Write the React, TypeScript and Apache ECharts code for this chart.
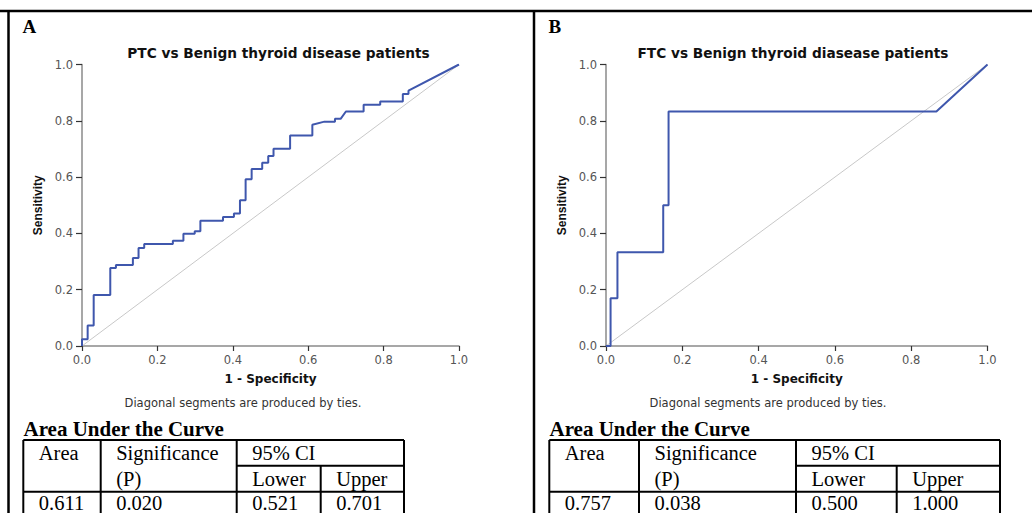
import React, { useEffect, useRef } from "react";
import * as echarts from "echarts";

// ---------- Data ----------
const panelLabels = ["A", "B"];
const chartTitles = [
  "PTC vs Benign thyroid disease patients",
  "FTC vs Benign thyroid diasease patients",
];

// Panel A: ROC corners (1 - specificity, sensitivity)
const ptcFpr = [
  0, 0, 0.015, 0.015, 0.031, 0.031, 0.075, 0.075, 0.09, 0.09, 0.135, 0.135,
  0.15, 0.15, 0.165, 0.165, 0.241, 0.241, 0.269, 0.269, 0.299, 0.299, 0.314,
  0.314, 0.374, 0.374, 0.403, 0.403, 0.419, 0.419, 0.434, 0.434, 0.45, 0.45,
  0.478, 0.478, 0.494, 0.494, 0.508, 0.508, 0.552, 0.552, 0.611, 0.611, 0.643,
  0.671, 0.671, 0.686, 0.7, 0.747, 0.747, 0.791, 0.791, 0.851, 0.851, 0.866,
  0.866, 1,
];
const ptcTpr = [
  0, 0.024, 0.024, 0.073, 0.073, 0.181, 0.181, 0.277, 0.277, 0.288, 0.288,
  0.313, 0.313, 0.348, 0.348, 0.362, 0.362, 0.374, 0.374, 0.399, 0.399, 0.408,
  0.408, 0.445, 0.445, 0.458, 0.458, 0.471, 0.471, 0.518, 0.518, 0.592, 0.592,
  0.629, 0.629, 0.651, 0.651, 0.675, 0.675, 0.701, 0.701, 0.748, 0.748, 0.786,
  0.797, 0.797, 0.807, 0.807, 0.833, 0.833, 0.857, 0.857, 0.869, 0.869, 0.895,
  0.895, 0.907, 1,
];

// Panel B
const ftcFpr = [0, 0.012, 0.012, 0.03, 0.03, 0.15, 0.15, 0.164, 0.164, 0.866, 1];
const ftcTpr = [0, 0, 0.17, 0.17, 0.333, 0.333, 0.5, 0.5, 0.833, 0.833, 1];

const refX = [0, 1];
const refY = [0, 1];

// Tables
const tableTitle = "Area Under the Curve";
const headerRow1 = ["Area", "Significance", "95% CI"];
const headerRow2 = ["", "(P)", "Lower", "Upper"];
const aucA = ["0.611", "0.020", "0.521", "0.701"];
const aucB = ["0.757", "0.038", "0.500", "1.000"];
const footnote = "Diagonal segments are produced by ties.";

const pairs = (xs: number[], ys: number[]) => xs.map((x, i) => [x, ys[i]]);

export default function App() {
  const ref = useRef<HTMLDivElement>(null);

  useEffect(() => {
    if (!ref.current) return;
    const chart = echarts.init(ref.current, null, { renderer: "svg" });

    const grids = [
      { left: 82, top: 64.5, width: 377, height: 281.5 },
      { left: 606, top: 64.5, width: 381.5, height: 281.5 },
    ];

    const axisFont = "DejaVu Sans";
    const mkX = (gi: number) => ({
      type: "value",
      gridIndex: gi,
      min: 0,
      max: 1,
      interval: 0.2,
      axisLine: { show: true, onZero: false, lineStyle: { color: "#8a8a8a", width: 1.5 } },
      axisTick: { show: true, length: 5, lineStyle: { color: "#333", width: 1.2 } },
      axisLabel: {
        formatter: (v: number) => v.toFixed(1),
        color: "#555",
        fontSize: 11.5,
        fontFamily: axisFont,
        margin: 8,
      },
      splitLine: { show: false },
      name: "1 - Specificity",
      nameLocation: "middle",
      nameGap: 27,
      nameTextStyle: { fontWeight: "bold", fontSize: 12, color: "#111", fontFamily: axisFont },
    });
    const mkY = (gi: number) => ({
      type: "value",
      gridIndex: gi,
      min: 0,
      max: 1,
      interval: 0.2,
      axisLine: { show: true, onZero: false, lineStyle: { color: "#8a8a8a", width: 1.5 } },
      axisTick: { show: true, length: 6, lineStyle: { color: "#333", width: 1.2 } },
      axisLabel: {
        formatter: (v: number) => v.toFixed(1),
        color: "#555",
        fontSize: 11.5,
        fontFamily: axisFont,
        margin: 9,
      },
      splitLine: { show: false },
      name: "Sensitivity",
      nameLocation: "middle",
      nameRotate: 90,
      nameGap: 38,
      nameTextStyle: {
        fontWeight: "bold",
        fontSize: 12,
        color: "#111",
        fontFamily: "Liberation Sans",
      },
    });

    const graphic: any[] = [];
    const line = (x1: number, y1: number, x2: number, y2: number, w = 2) =>
      graphic.push({
        type: "line",
        shape: { x1, y1, x2, y2 },
        style: { stroke: "#000", lineWidth: w },
      });
    const text = (
      x: number,
      y: number,
      t: string,
      font: string,
      fill = "#000",
      align = "left"
    ) =>
      graphic.push({
        type: "text",
        x,
        y,
        style: { text: t, font, fill, align, verticalAlign: "middle" },
      });

    // Outer frame
    line(0, 11, 1032, 11, 2.5);
    line(8.5, 11, 8.5, 513, 2.5);
    line(534, 11, 534, 513, 2.5);

    const panelX = [22.5, 548.5];
    const footX = [243, 768];
    const titleX = [278.5, 793];
    const tableCols = [
      [23.3, 100.7, 236.7, 320.7, 404],
      [549.3, 639, 796, 896.7, 1000],
    ];
    const tableVals = [aucA, aucB];

    for (let p = 0; p < 2; p++) {
      text(panelX[p], 26.5, panelLabels[p], "bold 19px 'Liberation Serif'");
      text(titleX[p], 53, chartTitles[p], "bold 13.7px 'DejaVu Sans'", "#111", "center");
      text(footX[p], 403, footnote, "11.5px 'DejaVu Sans'", "#333", "center");
      text(panelX[p] + 1, 429, tableTitle, "bold 21px 'Liberation Serif'");
      const c = tableCols[p];
      const top = 440, mid = 465.7, hb = 491.7, bot = 515;
      line(c[0], top, c[4], top);
      line(c[2], mid, c[4], mid);
      line(c[0], hb, c[4], hb);
      for (let i = 0; i < 5; i++) line(c[i], i === 3 ? mid : top, c[i], bot);
      const tf = "20.5px 'Liberation Serif'";
      const off = 15.5;
      text(c[0] + off, 453, headerRow1[0], tf);
      text(c[1] + off, 453, headerRow1[1], tf);
      text(c[2] + off, 453, headerRow1[2], tf);
      text(c[1] + off, 479, headerRow2[1], tf);
      text(c[2] + off, 479, headerRow2[2], tf);
      text(c[3] + off, 479, headerRow2[3], tf);
      for (let i = 0; i < 4; i++) text(c[i] + off, 502.5, tableVals[p][i], tf);
    }

    const option: any = {
      animation: false,
      backgroundColor: "#fff",
      grid: grids,
      xAxis: [mkX(0), mkX(1)],
      yAxis: [mkY(0), mkY(1)],
      series: [
        {
          type: "line",
          xAxisIndex: 0,
          yAxisIndex: 0,
          data: pairs(refX, refY),
          showSymbol: false,
          lineStyle: { color: "#c8c8c8", width: 1 },
          z: 1,
        },
        {
          type: "line",
          xAxisIndex: 0,
          yAxisIndex: 0,
          data: pairs(ptcFpr, ptcTpr),
          showSymbol: false,
          lineStyle: { color: "#3f57ad", width: 2 },
          z: 2,
        },
        {
          type: "line",
          xAxisIndex: 1,
          yAxisIndex: 1,
          data: pairs(refX, refY),
          showSymbol: false,
          lineStyle: { color: "#c8c8c8", width: 1 },
          z: 1,
        },
        {
          type: "line",
          xAxisIndex: 1,
          yAxisIndex: 1,
          data: pairs(ftcFpr, ftcTpr),
          showSymbol: false,
          lineStyle: { color: "#3f57ad", width: 2 },
          z: 2,
        },
      ],
      graphic,
    };
    chart.setOption(option);
    return () => chart.dispose();
  }, []);

  return (
    <div
      ref={ref}
      style={{ position: "fixed", left: 0, top: 0, width: 1032, height: 513, background: "#fff" }}
    />
  );
}
